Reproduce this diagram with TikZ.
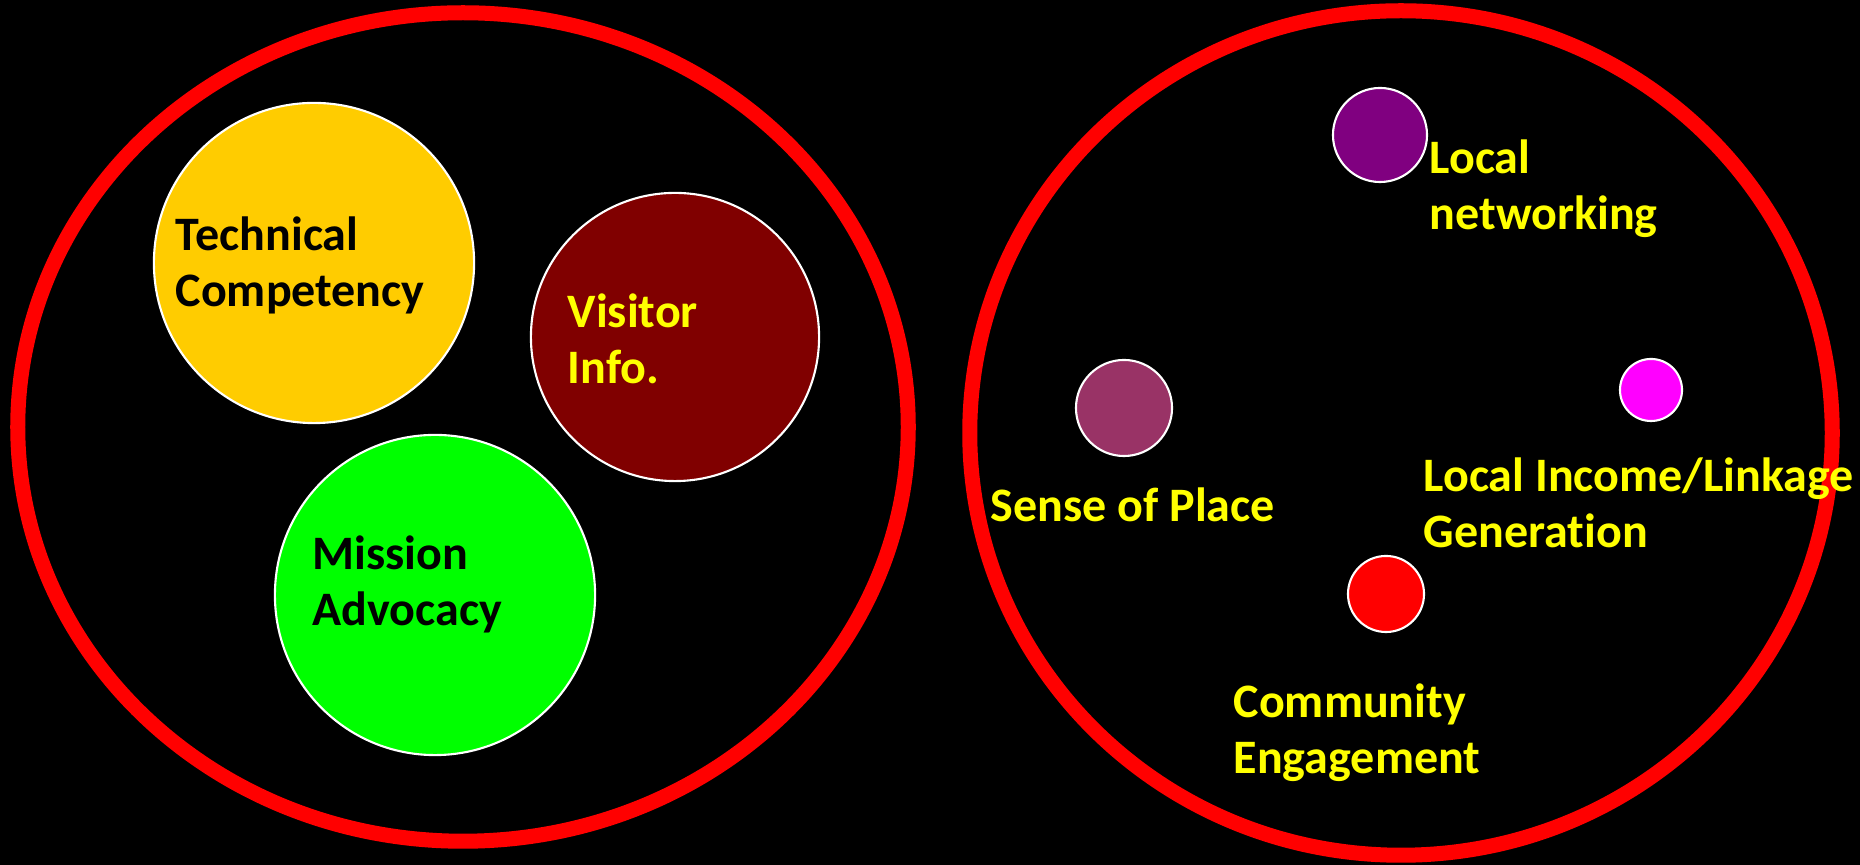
\documentclass[tikz,border=0pt]{standalone}
\usepackage{fontspec}
\setmainfont{Carlito}[Ligatures=NoCommon]
\usepackage{tikz}
\usetikzlibrary{shapes.geometric}

\definecolor{goldfill}{HTML}{FFCC00}
\definecolor{maroonfill}{HTML}{800000}
\definecolor{limefill}{HTML}{00FF00}
\definecolor{plumfill}{HTML}{800080}
\definecolor{placefill}{HTML}{993366}
\definecolor{pinkfill}{HTML}{FF00FF}
\definecolor{textyellow}{HTML}{FFFF00}

\begin{document}
\begin{tikzpicture}[
  x=0.01cm, y=-0.01cm,
  ring/.style={draw=red, line width=0.15cm, ellipse, inner sep=0pt},
  blob/.style={circle, draw=white, line width=0.6pt, inner sep=0pt},
  caption/.style={anchor=base west, align=left, inner sep=0pt, font=\fontsize{13.66}{16.2}\selectfont\bfseries}
]
\useasboundingbox (0,0) rectangle (1860,865);
\fill[black] (0,0) rectangle (1860,865);

% left ring (base of a two-line caption = its last line)
\node[ring, minimum width=8.9cm, minimum height=8.28cm] (core) at (463,427) {};
\node[blob, fill=goldfill, minimum size=3.2cm] (tech) at (314,263) {};
\node[blob, fill=maroonfill, minimum size=2.88cm] (visit) at (675,337) {};
\node[blob, fill=limefill, minimum size=3.2cm] (mission) at (435,595) {};
\node[caption, text=black] (techtxt) at (175,307) {Technical\\Competency};
\node[caption, text=textyellow] (visittxt) at (567,384) {Visitor\\Info.};
\node[caption, text=black] (missiontxt) at (312,626) {Mission\\Advocacy};

% right ring
\node[ring, minimum width=8.62cm, minimum height=8.44cm] (local) at (1401,433) {};
\node[blob, fill=plumfill, minimum size=0.94cm] (network) at (1380,135) {};
\node[blob, fill=placefill, minimum size=0.96cm] (place) at (1124,408) {};
\node[blob, fill=pinkfill, minimum size=0.62cm] (income) at (1651,390) {};
\node[blob, fill=red, minimum size=0.76cm] (community) at (1386,594) {};
\node[caption, text=textyellow] (networktxt) at (1429,230) {Local\\networking};
\node[caption, text=textyellow] (placetxt) at (990,522) {Sense of Place};
\node[caption, text=textyellow] (incometxt) at (1423,548) {Local Income/Linkage\\Generation};
\node[caption, text=textyellow] (communitytxt) at (1233,774) {Community\\Engagement};
\end{tikzpicture}
\end{document}
